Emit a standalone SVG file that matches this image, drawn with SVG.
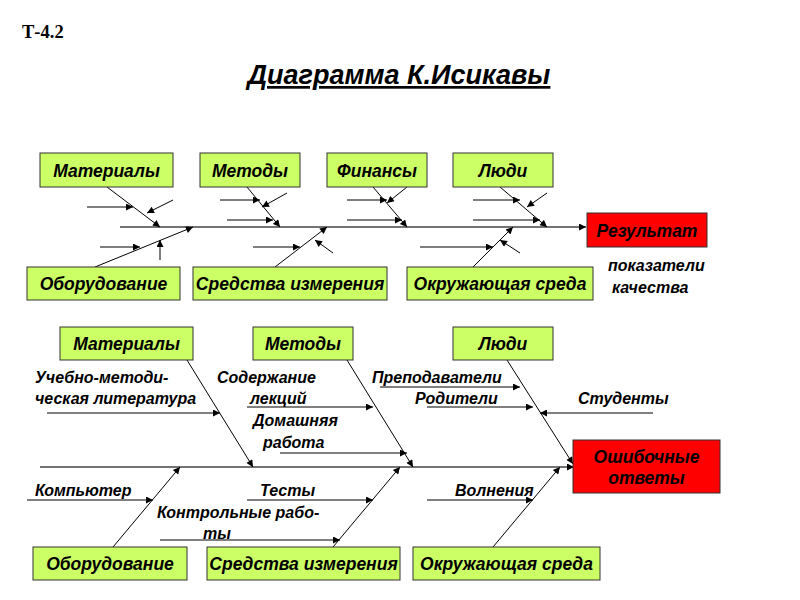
<svg xmlns="http://www.w3.org/2000/svg" width="800" height="600" viewBox="0 0 800 600">
<defs>
<marker id="ah" viewBox="0 0 10 10" refX="10" refY="5" markerWidth="9" markerHeight="7" markerUnits="userSpaceOnUse" orient="auto">
<path d="M0,0 L10,5 L0,10 z" fill="#000"/>
</marker>
</defs>
<style>
.box{fill:#ccff66;stroke:#333;stroke-width:1}
.red{fill:#ff0000;stroke:#333;stroke-width:1}
.lbl{font-family:"Liberation Sans",Arial,sans-serif;font-weight:bold;font-style:italic;font-size:17.5px;fill:#000}
.lt{font-family:"Liberation Sans",Arial,sans-serif;font-weight:bold;font-style:italic;font-size:16px;fill:#000}
.ln{stroke:#000;stroke-width:1;fill:none}
.ar{stroke:#000;stroke-width:1;fill:none;marker-end:url(#ah)}
.sp{stroke:#444;stroke-width:1.5;fill:none;marker-end:url(#ah)}
</style>
<rect width="800" height="600" fill="#fff"/>
<text x="22" y="38" font-family="Liberation Serif,'Times New Roman',serif" font-weight="bold" font-size="18.5">Т-4.2</text>
<text x="399" y="84" text-anchor="middle" font-family="Liberation Sans,Arial,sans-serif" font-weight="bold" font-style="italic" font-size="27" text-decoration="underline">Диаграмма К.Исикавы</text>

<g id="connectors">
<!-- top diagram -->
<line class="sp" x1="120" y1="227" x2="586" y2="227"/>
<line class="ar" x1="107" y1="187" x2="160" y2="227"/>
<line class="ar" x1="87" y1="207" x2="133" y2="207"/>
<line class="ar" x1="173" y1="200" x2="147" y2="213"/>
<line class="ar" x1="95" y1="267" x2="193" y2="227"/>
<line class="ar" x1="100" y1="247" x2="140" y2="247"/>
<line class="ar" x1="160" y1="260" x2="160" y2="240"/>
<line class="ar" x1="247" y1="187" x2="280" y2="227"/>
<line class="ar" x1="220" y1="200" x2="260" y2="200"/>
<line class="ar" x1="227" y1="220" x2="273" y2="220"/>
<line class="ar" x1="287" y1="193" x2="262" y2="207"/>
<line class="ar" x1="275" y1="267" x2="327" y2="227"/>
<line class="ar" x1="253" y1="247" x2="300" y2="247"/>
<line class="ar" x1="333" y1="253" x2="315" y2="240"/>
<line class="ar" x1="373" y1="187" x2="407" y2="227"/>
<line class="ar" x1="347" y1="200" x2="387" y2="200"/>
<line class="ar" x1="347" y1="220" x2="402" y2="220"/>
<line class="ar" x1="407" y1="187" x2="387" y2="203"/>
<line class="ar" x1="500" y1="187" x2="547" y2="227"/>
<line class="ar" x1="473" y1="200" x2="520" y2="200"/>
<line class="ar" x1="473" y1="220" x2="540" y2="220"/>
<line class="ar" x1="547" y1="193" x2="527" y2="207"/>
<line class="ar" x1="473" y1="267" x2="513" y2="227"/>
<line class="ar" x1="420" y1="247" x2="493" y2="247"/>
<line class="ar" x1="520" y1="253" x2="500" y2="240"/>
<!-- bottom diagram -->
<line class="sp" x1="40" y1="467" x2="574" y2="467"/>
<line class="ar" x1="187" y1="360" x2="253" y2="467"/>
<line class="ar" x1="47" y1="413" x2="220" y2="413"/>
<line class="ar" x1="347" y1="360" x2="413" y2="467"/>
<line class="ar" x1="247" y1="407" x2="373" y2="407"/>
<line class="ar" x1="280" y1="453" x2="407" y2="453"/>
<line class="ar" x1="507" y1="360" x2="573" y2="464"/>
<line class="ar" x1="380" y1="387" x2="520" y2="387"/>
<line class="ar" x1="427" y1="407" x2="533" y2="407"/>
<line class="ar" x1="653" y1="413" x2="540" y2="413"/>
<line class="ar" x1="113" y1="547" x2="180" y2="467"/>
<line class="ar" x1="27" y1="500" x2="153" y2="500"/>
<line class="ar" x1="333" y1="547" x2="400" y2="467"/>
<line class="ar" x1="247" y1="500" x2="373" y2="500"/>
<line class="ar" x1="160" y1="540" x2="340" y2="540"/>
<line class="ar" x1="493" y1="547" x2="560" y2="467"/>
<line class="ar" x1="427" y1="500" x2="533" y2="500"/>
</g>

<g id="t-materialy"><rect class="box" x="40" y="153" width="133" height="34"/><text class="lbl" x="106.5" y="176.5" text-anchor="middle">Материалы</text></g>
<g id="t-metody"><rect class="box" x="200" y="153" width="100" height="34"/><text class="lbl" x="250" y="176.5" text-anchor="middle">Методы</text></g>
<g id="t-finansy"><rect class="box" x="327" y="153" width="100" height="34"/><text class="lbl" x="377" y="176.5" text-anchor="middle">Финансы</text></g>
<g id="t-lyudi"><rect class="box" x="453" y="153" width="100" height="34"/><text class="lbl" x="503" y="176.5" text-anchor="middle">Люди</text></g>
<g id="t-result"><rect class="red" x="587" y="213" width="120" height="34"/><text class="lbl" x="647" y="236.5" text-anchor="middle">Результат</text></g>
<g id="t-oborud"><rect class="box" x="27" y="267" width="153" height="33"/><text class="lbl" x="103.5" y="290" text-anchor="middle">Оборудование</text></g>
<g id="t-sredstva"><rect class="box" x="193" y="267" width="194" height="33"/><text class="lbl" x="290" y="290" text-anchor="middle">Средства измерения</text></g>
<g id="t-okruzh"><rect class="box" x="407" y="267" width="186" height="33"/><text class="lbl" x="500" y="290" text-anchor="middle">Окружающая среда</text></g>
<text class="lt" x="608" y="271">показатели</text>
<text class="lt" x="612" y="293">качества</text>

<g id="b-materialy"><rect class="box" x="60" y="327" width="133" height="33"/><text class="lbl" x="126.5" y="350" text-anchor="middle">Материалы</text></g>
<g id="b-metody"><rect class="box" x="253" y="327" width="100" height="33"/><text class="lbl" x="303" y="350" text-anchor="middle">Методы</text></g>
<g id="b-lyudi"><rect class="box" x="453" y="327" width="100" height="33"/><text class="lbl" x="503" y="350" text-anchor="middle">Люди</text></g>
<g id="b-result"><rect class="red" x="573" y="440" width="147" height="53"/><text class="lbl" x="646.5" y="463" text-anchor="middle">Ошибочные</text><text class="lbl" x="646.5" y="484" text-anchor="middle">ответы</text></g>
<g id="b-oborud"><rect class="box" x="33" y="547" width="154" height="33"/><text class="lbl" x="110" y="570" text-anchor="middle">Оборудование</text></g>
<g id="b-sredstva"><rect class="box" x="207" y="547" width="193" height="33"/><text class="lbl" x="303.5" y="570" text-anchor="middle">Средства измерения</text></g>
<g id="b-okruzh"><rect class="box" x="413" y="547" width="187" height="33"/><text class="lbl" x="506.5" y="570" text-anchor="middle">Окружающая среда</text></g>

<text class="lt" x="35" y="383">Учебно-методи-</text>
<text class="lt" x="35" y="404">ческая литература</text>
<text class="lt" x="217" y="383">Содержание</text>
<text class="lt" x="250" y="404">лекций</text>
<text class="lt" x="253" y="426">Домашняя</text>
<text class="lt" x="263" y="448">работа</text>
<text class="lt" x="372" y="383">Преподаватели</text>
<text class="lt" x="415" y="404">Родители</text>
<text class="lt" x="578" y="404">Студенты</text>
<text class="lt" x="35" y="496">Компьютер</text>
<text class="lt" x="260" y="496">Тесты</text>
<text class="lt" x="157" y="518">Контрольные рабо-</text>
<text class="lt" x="203" y="539">ты</text>
<text class="lt" x="455" y="496">Волнения</text>
</svg>
